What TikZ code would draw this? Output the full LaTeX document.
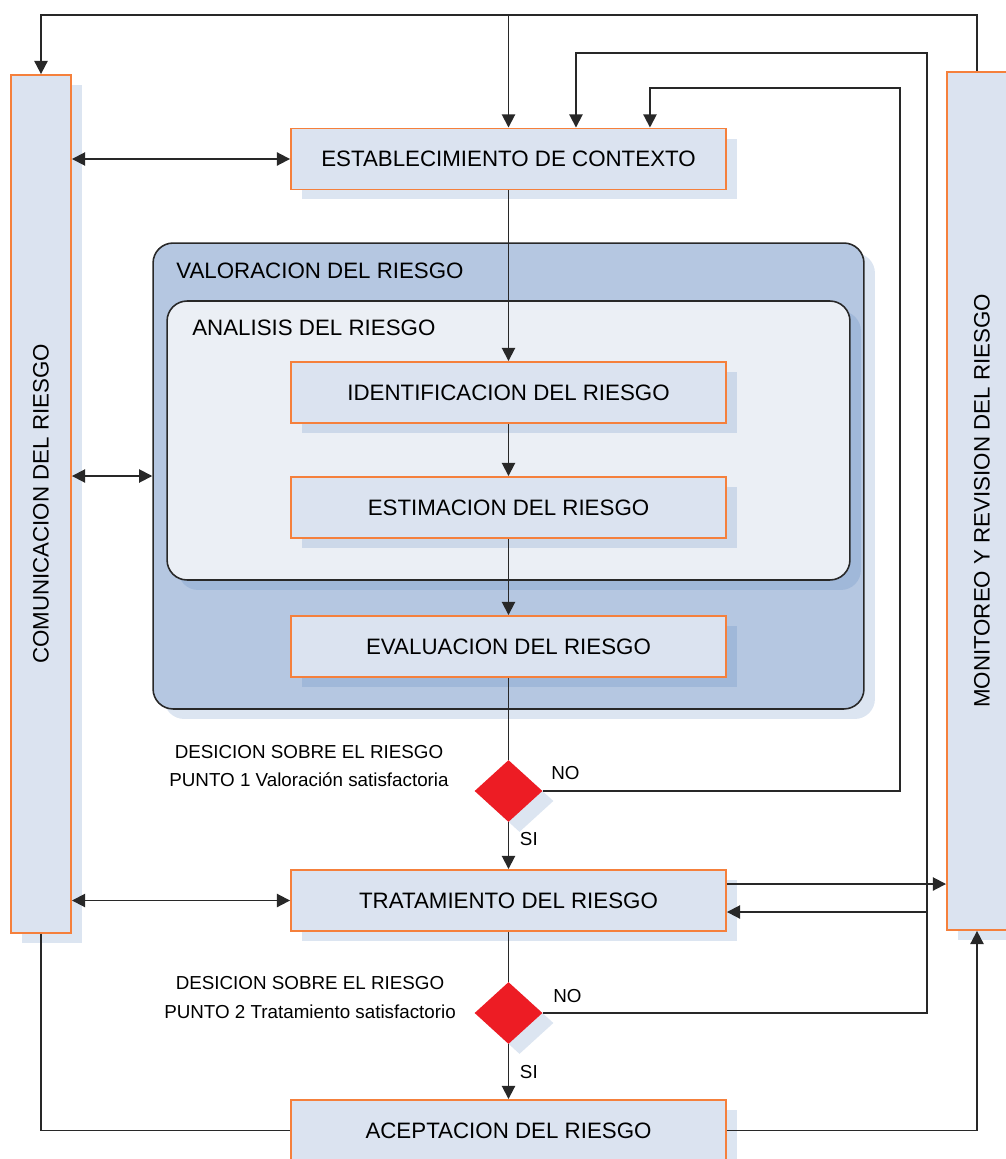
\documentclass[tikz,border=0pt]{standalone}
\usepackage{fontspec}
\setmainfont{Liberation Sans}
\usepackage{graphicx}
\usetikzlibrary{shapes.geometric,shadows,arrows.meta,positioning}

\definecolor{cajafondo}{RGB}{219,227,240}
\definecolor{cajaborde}{RGB}{245,128,60}
\definecolor{valfondo}{RGB}{181,199,225}
\definecolor{anafondo}{RGB}{235,239,245}
\definecolor{sombra}{RGB}{80,125,185}
\definecolor{rojo}{RGB}{237,28,36}
\definecolor{trazo}{RGB}{40,40,40}

\begin{document}
\begin{tikzpicture}[
        x=0.02cm, y=-0.02cm,
        sombreado/.style={
            drop shadow={shadow xshift=0.22cm, shadow yshift=-0.2cm, fill=sombra, opacity=0.2}
        },
        proceso/.style={
            draw=cajaborde, fill=cajafondo, line width=1.1pt,
            minimum width=8.7cm, minimum height=1.22cm,
            font=\fontsize{12.7}{14}\selectfont,
            sombreado
        },
        lateral/.style={
            proceso,
            minimum width=1.2cm, minimum height=17.16cm
        },
        grupo/.style={
            draw=trazo, line width=0.9pt, rounded corners=0.4cm,
            sombreado
        },
        titulo/.style={
            inner sep=0pt,
            font=\fontsize{12.7}{14}\selectfont
        },
        decision/.style={
            diamond, fill=rojo, inner sep=0pt,
            minimum width=1.36cm, minimum height=1.24cm,
            sombreado
        },
        etiqueta/.style={
            inner sep=0pt,
            font=\fontsize{10.7}{16.4}\selectfont
        },
        linea/.style={
            draw=trazo, line width=1.05pt
        },
        flecha/.style={
            linea,
            -{Triangle[length=7.5pt,width=7.5pt]}
        },
        doble/.style={
            linea,
            {Triangle[length=7.5pt,width=7.5pt]}-{Triangle[length=7.5pt,width=7.5pt]}
        }
    ]
    \useasboundingbox (0,0) rectangle (1005,1159);

    % bloques laterales
    \node[lateral] (comun) at (41,504) {\rotatebox{90}{COMUNICACION DEL RIESGO}};
    \node[lateral, minimum width=1.4cm] (monit) at (982,501) {\rotatebox{90}{MONITOREO Y REVISION DEL RIESGO}};

    % valoracion y analisis
    \node[grupo, fill=valfondo, minimum width=14.22cm, minimum height=9.32cm] (valor) at (508.5,476) {};
    \node[grupo, fill=anafondo, minimum width=13.66cm, minimum height=5.58cm] (anali) at (508.5,440.5) {};
    \node[titulo, anchor=west] (tvalor) at (176,271) {VALORACION DEL RIESGO};
    \node[titulo, anchor=west] (tanali) at (192,328) {ANALISIS DEL RIESGO};

    % procesos
    \node[proceso] (contexto) at (508.5,159) {ESTABLECIMIENTO DE CONTEXTO};
    \node[proceso] (identif) at (508.5,392.5) {IDENTIFICACION DEL RIESGO};
    \node[proceso] (estima) at (508.5,507.5) {ESTIMACION DEL RIESGO};
    \node[proceso] (evalua) at (508.5,646.5) {EVALUACION DEL RIESGO};
    \node[decision] (punto1) at (508.5,791) {};
    \node[proceso] (tratam) at (508.5,900.5) {TRATAMIENTO DEL RIESGO};
    \node[decision] (punto2) at (508.5,1013) {};
    \node[proceso] (acepta) at (508.5,1130.5) {ACEPTACION DEL RIESGO};

    % textos de decision
    \node[etiqueta, align=center] (texto1) at (309,766) {DESICION SOBRE EL RIESGO\\PUNTO 1 Valoración satisfactoria};
    \node[etiqueta, align=center] (texto2) at (310,997.5) {DESICION SOBRE EL RIESGO\\PUNTO 2 Tratamiento satisfactorio};

    % flujo principal
    \draw[flecha] (contexto.south) -- (identif.north);
    \draw[flecha] (identif.south) -- (estima.north);
    \draw[flecha] (estima.south) -- (evalua.north);
    \draw[linea] (evalua.south) -- (punto1.north);
    \draw[flecha] (punto1.south) -- node[etiqueta, right=6pt, pos=0.35] (si1) {SI} (tratam.north);
    \draw[linea] (tratam.south) -- (punto2.north);
    \draw[flecha] (punto2.south) -- node[etiqueta, right=6pt] (si2) {SI} (acepta.north);

    % retroalimentacion superior
    \coordinate (arribaI) at (41,15);
    \coordinate (arribaD) at (977,15);
    \draw[flecha] (monit.north -| arribaD) -- (arribaD) -- (arribaI) -- (comun.north);
    \draw[flecha] (contexto.north |- arribaI) -- (contexto.north);

    % NO del punto 1
    \coordinate (ret1) at (900,88);
    \draw[flecha] (punto1.east) -| (ret1) -| ([xshift=2.83cm]contexto.north);
    \node[etiqueta, anchor=west] (no1) at (551,773) {NO};

    % NO del punto 2
    \coordinate (ret2) at (927,53);
    \draw[flecha] (punto2.east) -| (ret2) -| ([xshift=1.35cm]contexto.north);
    \coordinate (rama2) at (927,912);
    \draw[flecha] (rama2) -- (rama2 -| tratam.east);
    \node[etiqueta, anchor=west] (no2) at (553,996) {NO};

    % tratamiento y aceptacion hacia monitoreo
    \coordinate (trsal) at ([yshift=0.33cm]tratam.east);
    \draw[flecha] (trsal) -- (trsal -| monit.west);
    \draw[flecha] (acepta.east) -| (monit.south -| arribaD);
    \draw[linea] (comun.south) |- (acepta.west);

    % comunicacion en ambos sentidos
    \draw[doble] (comun.east |- contexto.west) -- (contexto.west);
    \draw[doble] (comun.east |- valor.west) -- (valor.west);
    \draw[doble] (comun.east |- tratam.west) -- (tratam.west);
\end{tikzpicture}
\end{document}
